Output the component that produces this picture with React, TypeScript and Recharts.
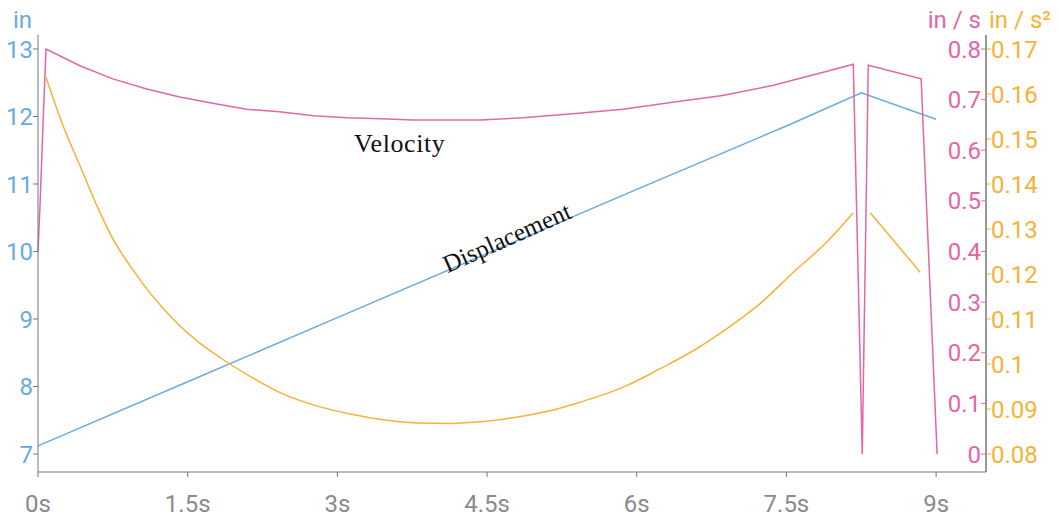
import { LineChart, Line, XAxis, YAxis } from "recharts";

// displacement (in)
const dispTime = [0, 1.5, 3, 4.5, 6, 7.5, 8.25, 9.0];
const dispValues = [7.12, 8.07, 9.02, 9.97, 10.92, 11.86, 12.35, 11.96];

// velocity (in / s)
const velTime = [
  0, 0.02, 0.05, 0.08, 0.42, 0.75, 1.09, 1.42, 1.75, 2.09, 2.42, 2.76, 3.1, 3.43,
  3.76, 4.1, 4.43, 4.86, 5.36, 5.86, 6.36, 6.86, 7.36, 7.87, 8.17, 8.26, 8.32,
  8.85, 9.01,
];
const velValues = [
  0.4, 0.49, 0.65, 0.8, 0.767, 0.741, 0.721, 0.705, 0.693, 0.681, 0.676, 0.668,
  0.664, 0.662, 0.66, 0.66, 0.66, 0.664, 0.672, 0.681, 0.695, 0.708, 0.728,
  0.754, 0.77, 0, 0.768, 0.741, 0,
];

// acceleration (in / s²), null = gap
const accTime = [
  0.08, 0.25, 0.42, 0.59, 0.75, 0.92, 1.09, 1.26, 1.42, 1.59, 1.82, 2.1, 2.46,
  2.79, 3.13, 3.46, 3.79, 4.13, 4.46, 4.8, 5.13, 5.43, 5.9, 6.23, 6.57, 6.9,
  7.23, 7.57, 7.9, 8.17, 8.25, 8.34, 8.59, 8.84,
];
const accValues = [
  0.1637, 0.153, 0.1441, 0.1352, 0.1278, 0.1219, 0.1167, 0.1122, 0.1085,
  0.1052, 0.1015, 0.0976, 0.0933, 0.0907, 0.0889, 0.0876, 0.0869, 0.0868,
  0.0872, 0.0882, 0.0896, 0.0915, 0.0952, 0.0989, 0.103, 0.1078, 0.1133,
  0.1204, 0.127, 0.1336, null, 0.1336, 0.127, 0.1204,
];

const timeTicks = [0, 1.5, 3, 4.5, 6, 7.5, 9];
const dispTicks = [7, 8, 9, 10, 11, 12, 13];
const velTicks = [0, 0.1, 0.2, 0.3, 0.4, 0.5, 0.6, 0.7, 0.8];
const accTicks = [0.08, 0.09, 0.1, 0.11, 0.12, 0.13, 0.14, 0.15, 0.16, 0.17];

const BLUE = "#6aaade";
const PINK = "#e366a6";
const ORANGE = "#f6b237";
const AXIS = "#777";
const FONT = "Roboto, sans-serif";
const SERIF = "'Liberation Serif', 'Times New Roman', serif";

const dispData = dispTime.map((t, i) => ({ t, disp: dispValues[i] }));
const velData = velTime.map((t, i) => ({ t, vel: velValues[i] }));
const accData = accTime.map((t, i) => ({ t, acc: accValues[i] }));

const pad = { top: 14, bottom: 18 };

export default function App() {
  return (
    <div style={{ position: "absolute", left: 0, top: 0, width: 1059, height: 521, background: "#fff" }}>
      <LineChart width={1059} height={521} margin={{ top: 35, right: 0, bottom: 0, left: 0 }}>
        <XAxis
          dataKey="t"
          type="number"
          domain={[0, 9.5]}
          ticks={timeTicks}
          tickFormatter={(v) => `${v}s`}
          stroke={AXIS}
          tickSize={5}
          tickMargin={18}
          height={49}
          tick={{ fontSize: 24, fill: "#8a8a8a", fontFamily: FONT }}
        />
        <YAxis
          yAxisId="disp"
          orientation="left"
          domain={[7, 13]}
          ticks={dispTicks}
          width={38}
          padding={pad}
          stroke={AXIS}
          tickSize={5}
          tickMargin={0}
          tick={{ fontSize: 24, fill: BLUE, fontFamily: FONT }}
        />
        <YAxis
          yAxisId="acc"
          orientation="right"
          domain={[0.08, 0.17]}
          ticks={accTicks}
          width={73}
          padding={pad}
          stroke={AXIS}
          tickSize={5}
          tickMargin={0}
          tickLine={{ stroke: ORANGE }}
          tick={{ fontSize: 24, fill: ORANGE, fontFamily: FONT }}
        />
        <YAxis
          yAxisId="vel"
          orientation="right"
          mirror
          domain={[0, 0.8]}
          ticks={velTicks}
          width={60}
          padding={pad}
          stroke={AXIS}
          tickSize={5}
          tickMargin={0}
          tickLine={{ stroke: PINK }}
          tick={{ fontSize: 24, fill: PINK, fontFamily: FONT }}
        />
        <Line
          yAxisId="disp"
          data={dispData}
          dataKey="disp"
          type="linear"
          stroke={BLUE}
          strokeWidth={1.5}
          dot={false}
          isAnimationActive={false}
        />
        <Line
          yAxisId="acc"
          data={accData}
          dataKey="acc"
          type="monotone"
          stroke={ORANGE}
          strokeWidth={1.5}
          dot={false}
          connectNulls={false}
          isAnimationActive={false}
        />
        <Line
          yAxisId="vel"
          data={velData}
          dataKey="vel"
          type="linear"
          stroke={PINK}
          strokeWidth={1.5}
          dot={false}
          isAnimationActive={false}
        />
      </LineChart>

      <div style={{ position: "absolute", left: 13, top: 6, fontFamily: FONT, fontSize: 24, color: BLUE }}>in</div>
      <div style={{ position: "absolute", right: 1059 - 981, top: 6, fontFamily: FONT, fontSize: 24, color: PINK, whiteSpace: "nowrap" }}>
        in / s
      </div>
      <div style={{ position: "absolute", left: 989, top: 6, fontFamily: FONT, fontSize: 24, color: ORANGE, whiteSpace: "nowrap" }}>
        in / s²
      </div>

      <div style={{ position: "absolute", left: 354, top: 129, fontFamily: SERIF, fontSize: 26, letterSpacing: 0.6, color: "#111" }}>
        Velocity
      </div>
      <div
        style={{
          position: "absolute",
          left: 507,
          top: 238,
          transform: "translate(-50%, -50%) rotate(-24deg)",
          fontFamily: SERIF,
          fontSize: 25,
          color: "#111",
          whiteSpace: "nowrap",
        }}
      >
        Displacement
      </div>
    </div>
  );
}
